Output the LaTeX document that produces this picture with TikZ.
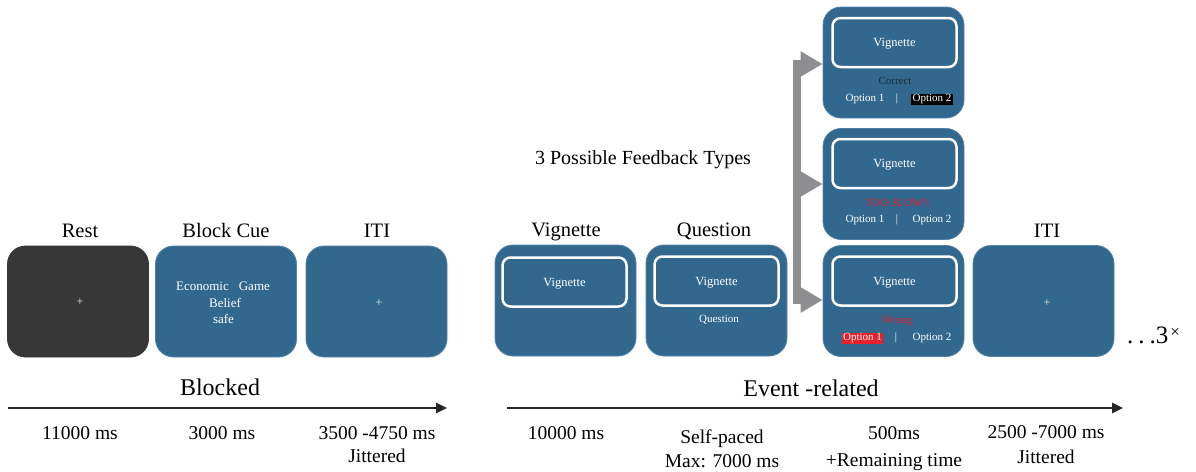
\documentclass[tikz,border=0pt]{standalone}
\usepackage{fontspec}
\setmainfont{Liberation Serif}
\usetikzlibrary{arrows.meta}
\definecolor{scrblue}{HTML}{33688E}
\definecolor{scredge}{HTML}{5283AA}
\definecolor{scrdark}{HTML}{373737}
\definecolor{fbgray}{HTML}{8E8E90}
\definecolor{fbred}{HTML}{E8202A}
\definecolor{okdark}{HTML}{1E2A36}
\begin{document}
\begin{tikzpicture}[x=1pt,y=-1pt,
  screen/.style={draw=scredge, line width=0.8pt, fill=scrblue, rounded corners=18pt,
    minimum width=141pt, minimum height=111pt, inner sep=0pt},
  darkscreen/.style={screen, draw=scrdark, fill=scrdark},
  innerbox/.style={draw=white, line width=2.5pt, rounded corners=8pt, minimum width=124pt,
    minimum height=49pt, text=white, text depth=0pt, font=\fontsize{12.5}{14}\selectfont},
  title/.style={font=\fontsize{20.5}{24}\selectfont, anchor=base, inner sep=0pt},
  small/.style={text=white, font=\fontsize{11}{13}\selectfont, inner sep=0pt, anchor=base},
  optbg/.style={small, inner xsep=1.5pt, inner ysep=1pt, text height=7pt, text depth=2.2pt},
  cue/.style={text=white, font=\fontsize{13}{15}\selectfont, inner sep=0pt, anchor=base},
  plus/.style={text=white!85!gray, font=\fontsize{12}{13}\selectfont, inner sep=0pt},
  tl/.style={font=\fontsize{19.5}{24}\selectfont, anchor=base, inner sep=0pt},
  phase/.style={font=\fontsize{24}{28}\selectfont, anchor=base, inner sep=0pt},
  fbarrow/.style={-{Triangle[length=22pt,width=24pt]}, draw=fbgray, fill=fbgray, line width=8pt},
  timeline/.style={-{Triangle[length=11pt,width=10pt]}, line width=2.5pt, draw=black!85, fill=black!85}
]
\useasboundingbox (0,0) rectangle (1196,471);

% ---- screens
\node[darkscreen] (rest) at (78,301.5) {};
\node[plus] (restplus) at (80,302) {+};
\node[screen] (cue) at (226,301.5) {};
\node[cue] (cue1) at (223,290) {Economic\hspace{10pt}Game};
\node[cue] (cue2) at (225,307) {Belief};
\node[cue] (cue3) at (223.5,323.5) {safe};
\node[screen] (iti1) at (376.5,301.5) {};
\node[plus] (iti1plus) at (379,303) {+};

\node[screen] (vig) at (565.5,300.5) {};
\node[innerbox] (viginner) at (564.5,282) {Vignette};
\node[screen] (ques) at (716.5,300.5) {};
\node[innerbox] (quesinner) at (716.5,281) {Vignette};
\node[small] (questext) at (719,322) {Question};

\node[screen] (fb1) at (893.5,62.5) {};
\node[innerbox] (fb1inner) at (894.5,42.5) {Vignette};
\node[small, text=okdark] (fb1msg) at (895,84.5) {Correct};
\node[small] (fb1o1) at (865,101.7) {Option 1};
\node[small] (fb1bar) at (897,101.7) {|};
\node[optbg, fill=black] (fb1o2) at (932,101.7) {Option 2};

\node[screen] (fb2) at (893.5,184) {};
\node[innerbox] (fb2inner) at (894.5,163.5) {Vignette};
\node[small, text=fbred] (fb2msg) at (898,206) {TOO SLOW!!};
\node[small] (fb2o1) at (865,222.7) {Option 1};
\node[small] (fb2bar) at (897,222.7) {|};
\node[small] (fb2o2) at (932,222.7) {Option 2};

\node[screen] (fb3) at (893.5,301) {};
\node[innerbox] (fb3inner) at (894.5,281) {Vignette};
\node[small, text=fbred] (fb3msg) at (897,323.3) {Wrong};
\node[optbg, fill=fbred] (fb3o1) at (862.5,340.7) {Option 1};
\node[small] (fb3bar) at (896,340.7) {|};
\node[small] (fb3o2) at (932,340.7) {Option 2};

\node[screen] (iti2) at (1043.5,301) {};
\node[plus] (iti2plus) at (1047,303) {+};

\node[anchor=base west, inner sep=0pt, font=\fontsize{25}{28}\selectfont] (rep) at (1127,343)
  {.\hspace{5pt}.\hspace{5pt}.3\hspace{2pt}\raisebox{6pt}{\fontsize{17}{18}\selectfont×}};

% ---- titles
\node[title] (trest) at (80,237) {Rest};
\node[title] (tcue) at (226,237) {Block Cue};
\node[title] (titi1) at (377,237) {ITI};
\node[title] (tvig) at (566,236) {Vignette};
\node[title] (tques) at (714,236) {Question};
\node[title] (titi2) at (1047,237) {ITI};
\node[title, font=\fontsize{20}{24}\selectfont] (tfb) at (643,164) {3 Possible Feedback Types};

% ---- feedback arrows
\coordinate (j0) at (797,60);
\coordinate (j1) at (797,64);
\coordinate (j2) at (797,184);
\coordinate (j3) at (797,300);
\coordinate (j4) at (797,304);
\draw[draw=fbgray, line width=8pt] (j0) -- (j4);
\draw[fbarrow] (j1) -- (j1 -| fb1.west);
\draw[fbarrow] (j2) -- (j2 -| fb2.west);
\draw[fbarrow] (j3) -- (j3 -| fb3.west);

% ---- timelines
\coordinate (b0) at (8,408);
\coordinate (b1) at (447,408);
\coordinate (e0) at (507,408);
\coordinate (e1) at (1123,408);
\draw[timeline] (b0) -- (b1);
\draw[timeline] (e0) -- (e1);
\node[phase] (pblock) at (220,395) {Blocked};
\node[phase] (pevent) at (811,396) {Event -related};

% ---- timings
\node[tl] (d1) at (80,439) {11000 ms};
\node[tl] (d2) at (222,439) {3000 ms};
\node[tl] (d3) at (377,439) {3500 -4750 ms};
\node[tl] (d3b) at (377,462) {Jittered};
\node[tl] (d4) at (566,439) {10000 ms};
\node[tl] (d5) at (722,443) {Self-paced};
\node[tl] (d5b) at (722,467) {Max: 7000 ms};
\node[tl] (d6) at (894,439) {500ms};
\node[tl] (d6b) at (894,466) {+Remaining time};
\node[tl] (d7) at (1046,438) {2500 -7000 ms};
\node[tl] (d7b) at (1046,463) {Jittered};
\end{tikzpicture}
\end{document}
